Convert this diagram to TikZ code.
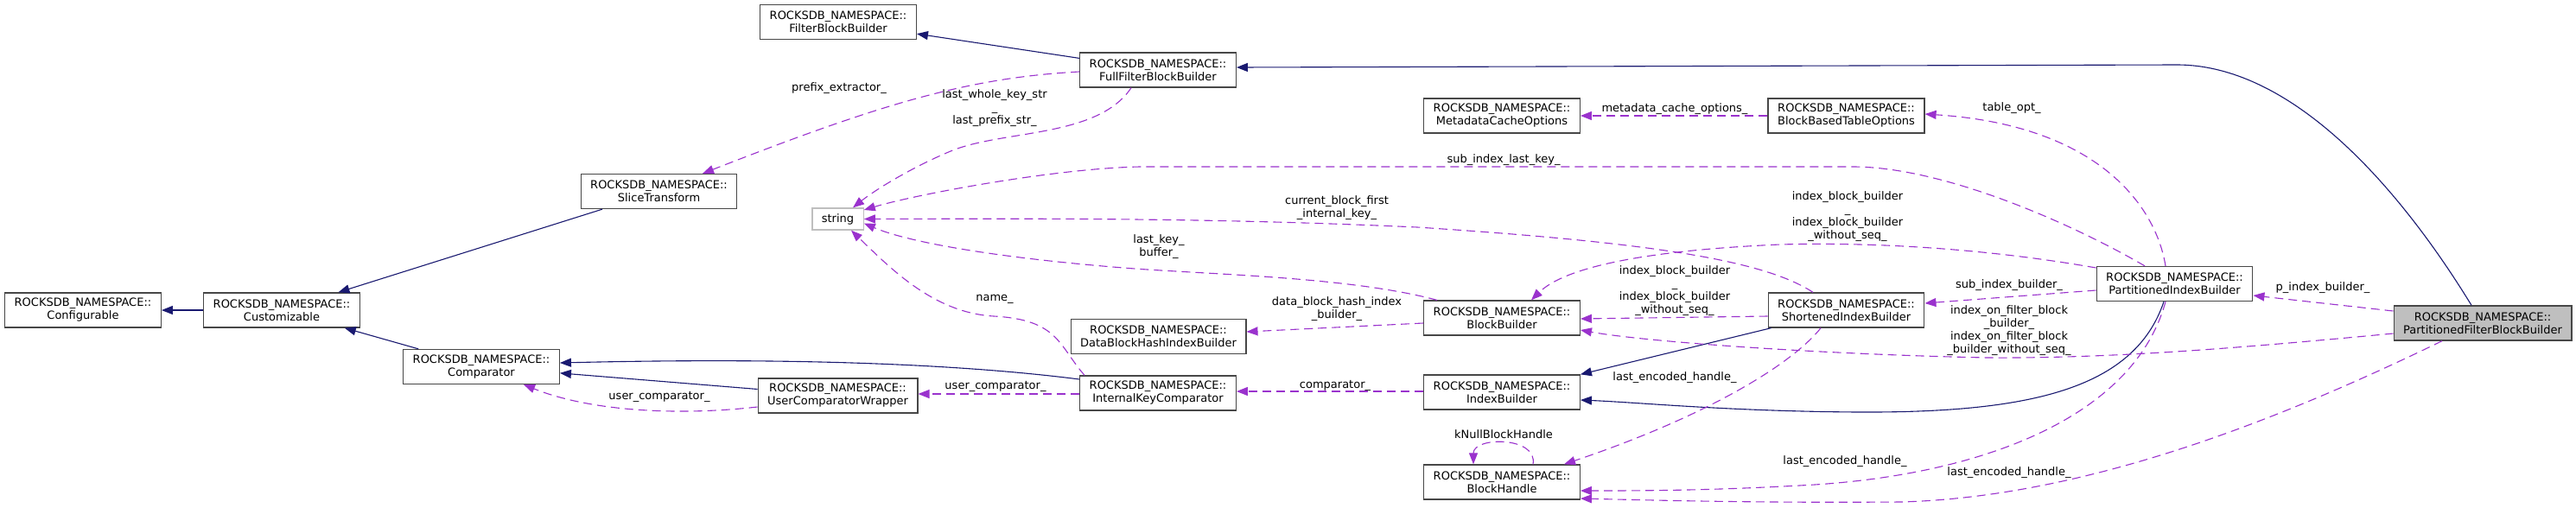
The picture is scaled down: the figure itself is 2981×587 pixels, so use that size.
\documentclass[tikz,border=0pt]{standalone}
\usepackage{fontspec}
\setmainfont{DejaVu Sans}
\usetikzlibrary{arrows.meta}
\definecolor{navyedge}{HTML}{191970}
\definecolor{orchidedge}{HTML}{9A32CD}
\newcommand{\rns}{ROCKSDB\_NAMESPACE::}

\begin{document}
\begin{tikzpicture}[x=1pt, y=-1pt,
  cls/.style={draw=black!72, line width=1.3pt, fill=white, align=center,
    inner xsep=11pt, inner ysep=4pt, minimum height=40pt,
    font=\fontsize{13}{15}\selectfont},
  ext/.style={cls, draw=black!25, minimum height=25pt},
  lbl/.style={align=center, inner sep=0pt, font=\fontsize{13}{15}\selectfont},
  inh/.style={draw=navyedge, line width=1.1pt, -{Triangle[length=13pt,width=10pt]}},
  use/.style={draw=orchidedge, line width=1.1pt, dash pattern=on 10pt off 6pt,
    -{Triangle[length=13pt,width=10pt]}}]
  \useasboundingbox (0,0) rectangle (2981,587);

  \node[cls] (fbb) at (970,25.5) {\rns\\FilterBlockBuilder};
  \node[cls] (ffbb) at (1340,81) {\rns\\FullFilterBlockBuilder};
  \node[cls] (mco) at (1738,134) {\rns\\MetadataCacheOptions};
  \node[cls] (bbto) at (2136.5,134) {\rns\\BlockBasedTableOptions};
  \node[cls] (st) at (762.5,221.5) {\rns\\SliceTransform};
  \node[ext] (str) at (969.5,253.5) {string};
  \node[cls] (conf) at (96,359) {\rns\\Configurable};
  \node[cls] (cust) at (326,359) {\rns\\Customizable};
  \node[cls] (cmp) at (557,424.5) {\rns\\Comparator};
  \node[cls] (ucw) at (969.5,458) {\rns\\UserComparatorWrapper};
  \node[cls] (ikc) at (1340,455) {\rns\\InternalKeyComparator};
  \node[cls] (dbhib) at (1340.5,389.5) {\rns\\DataBlockHashIndexBuilder};
  \node[cls] (bb) at (1738,368) {\rns\\BlockBuilder};
  \node[cls] (ib) at (1738,454) {\rns\\IndexBuilder};
  \node[cls] (bh) at (1738,558) {\rns\\BlockHandle};
  \node[cls] (sib) at (2136.5,359) {\rns\\ShortenedIndexBuilder};
  \node[cls] (pib) at (2516.5,328.5) {\rns\\PartitionedIndexBuilder};
  \node[cls, fill=black!25] (pfbb) at (2873,374) {\rns\\PartitionedFilterBlockBuilder};

  \node[lbl] (l-prefix) at (971,102) {prefix\_extractor\_};
  \node[lbl] (l-lastkey) at (1151,125) {last\_whole\_key\_str\\\_\\last\_prefix\_str\_};
  \node[lbl] (l-meta) at (1938,126) {metadata\_cache\_options\_};
  \node[lbl] (l-tabopt) at (2328,125) {table\_opt\_};
  \node[lbl] (l-subkey) at (1740,185) {sub\_index\_last\_key\_};
  \node[lbl] (l-curblk) at (1547,241) {current\_block\_first\\\_internal\_key\_};
  \node[lbl] (l-buffer) at (1341,286) {last\_key\_\\buffer\_};
  \node[lbl] (l-name) at (1151,346) {name\_};
  \node[lbl] (l-hash) at (1547,358) {data\_block\_hash\_index\\\_builder\_};
  \node[lbl] (l-ucmp1) at (1152,447) {user\_comparator\_};
  \node[lbl] (l-ucmp2) at (763,459) {user\_comparator\_};
  \node[lbl] (l-cmp) at (1545,446) {comparator\_};
  \node[lbl] (l-null) at (1740,503) {kNullBlockHandle};
  \node[lbl] (l-idx1) at (2138,250.5) {index\_block\_builder\\\_\\index\_block\_builder\\\_without\_seq\_};
  \node[lbl] (l-idx2) at (1938,336.5) {index\_block\_builder\\\_\\index\_block\_builder\\\_without\_seq\_};
  \node[lbl] (l-subidx) at (2325,330) {sub\_index\_builder\_};
  \node[lbl] (l-pidx) at (2688,333) {p\_index\_builder\_};
  \node[lbl] (l-filt) at (2325,382.5) {index\_on\_filter\_block\\\_builder\_\\index\_on\_filter\_block\\\_builder\_without\_seq\_};
  \node[lbl] (l-enc1) at (1938,437) {last\_encoded\_handle\_};
  \node[lbl] (l-enc2) at (2135,534) {last\_encoded\_handle\_};
  \node[lbl] (l-enc3) at (2325,547) {last\_encoded\_handle\_};

  \draw[inh] (ffbb) -- (fbb);
  \draw[inh] ([xshift=-13pt]pfbb.north) .. controls (2815,280) and (2680,75) .. (2519,75) -- ([yshift=3pt]ffbb.east);
  \draw[inh] (st) -- (cust);
  \draw[inh] (cust) -- (conf);
  \draw[inh] (cmp) -- (cust);
  \draw[inh] (ucw) -- (cmp);
  \draw[inh] ([yshift=16pt]ikc.west) .. controls (1100,420) and (900,414) .. ([yshift=4.5pt]cmp.east);
  \draw[inh] ([xshift=4pt]sib.south west) -- (ib.north east);
  \draw[inh] ([xshift=-12.5pt]pib.south) .. controls (2470,450) and (2350,478) .. (2150,477)
    .. controls (2000,476) and (1900,466) .. ([yshift=-9pt]ib.east);

  \draw[use] ([yshift=-2pt]ffbb.west) .. controls (1120,90) and (1020,120) .. ([xshift=50.5pt]st.north);
  \draw[use] ([xshift=-31pt]ffbb.south) .. controls (1270,160) and (1160,150) .. (1100,175)
    .. controls (1050,196) and (1010,222) .. ([xshift=17.5pt]str.north);
  \draw[use] ([xshift=-34.5pt]pib.north) .. controls (2400,260) and (2250,193) .. (2144,193) -- (1319,193)
    .. controls (1220,195) and (1060,225) .. ([yshift=10.5pt]str.east);
  \draw[use] ([xshift=-38.5pt]sib.north) .. controls (2040,300) and (1900,280) .. (1640,263)
    .. controls (1400,252) and (1200,253) .. (str.east);
  \draw[use] ([xshift=-75pt]bb.north) .. controls (1560,320) and (1400,318) .. (1300,310)
    .. controls (1150,298) and (1050,280) .. ([yshift=-5pt]str.east);
  \draw[use] ([xshift=-85pt]ikc.north) .. controls (1225,400) and (1225,370) .. (1150,366)
    .. controls (1080,362) and (1030,310) .. ([xshift=15.5pt]str.south);
  \draw[use] (bbto) -- (mco);
  \draw[use] ([xshift=-10.5pt]pib.north) .. controls (2495,240) and (2430,145) .. ([yshift=2pt]bbto.east);
  \draw[use] ([yshift=18.5pt]pib.west) .. controls (2300,288) and (2170,280) .. (2060,283)
    .. controls (1900,290) and (1810,310) .. ([xshift=34pt]bb.north);
  \draw[use] ([yshift=-7pt]sib.west) -- ([yshift=-1pt]bb.east);
  \draw[use] ([yshift=-12pt]pfbb.west) .. controls (2600,402) and (2450,415) .. (2300,414)
    .. controls (2100,410) and (1900,395) .. ([yshift=-14pt]bb.east);
  \draw[use] ([yshift=-7.5pt]pib.west) -- ([yshift=8pt]sib.east);
  \draw[use] ([yshift=14pt]pfbb.west) -- ([yshift=-13.5pt]pib.east);
  \draw[use] ([yshift=1pt]ib.west) -- ([yshift=2pt]ikc.east);
  \draw[use] ([yshift=-1pt]ikc.west) -- ([yshift=2pt]ucw.east);
  \draw[use] ([yshift=-13pt]ucw.west) .. controls (780,482) and (680,475) .. ([xshift=49pt]cmp.south);
  \draw[use] ([yshift=-6pt]bb.west) -- ([yshift=5.5pt]dbhib.east);
  \draw[use] ([xshift=36pt]bh.north) .. controls (1780,505) and (1705,505) .. ([xshift=-33pt]bh.north);
  \draw[use] ([xshift=-29.5pt]sib.south) .. controls (2075,420) and (1980,480) .. ([xshift=72pt]bh.north);
  \draw[use] ([xshift=-10.5pt]pib.south) .. controls (2470,480) and (2300,548) .. (2100,561)
    .. controls (1980,568) and (1900,568) .. ([yshift=-10pt]bh.east);
  \draw[use] ([xshift=-47pt]pfbb.south) .. controls (2650,480) and (2420,575) .. (2200,581)
    .. controls (2050,582) and (1950,580) .. ([yshift=-19pt]bh.east);
\end{tikzpicture}
\end{document}
